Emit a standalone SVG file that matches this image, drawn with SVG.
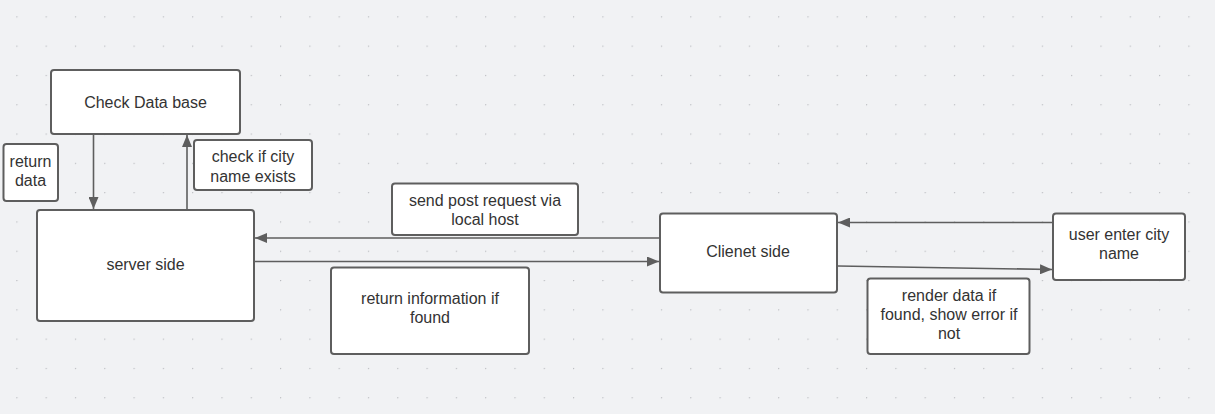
<svg xmlns="http://www.w3.org/2000/svg" width="1215" height="414" viewBox="0 0 1215 414">
<style>
.box{fill:#ffffff;stroke:#5e5e5e;stroke-width:2}
.lbl{font-family:"Liberation Sans",Arial,sans-serif;font-size:16px;fill:#333333;text-anchor:middle}
.conn{stroke:#5e5e5e;stroke-width:1.6;fill:none;marker-end:url(#arr)}
</style>
<defs>
<pattern id="dots" x="16.3" y="16.3" width="29.3" height="29.3" patternUnits="userSpaceOnUse">
<circle cx="0.6" cy="0.6" r="0.7" fill="#b8babe"/>
</pattern>
<marker id="arr" viewBox="0 0 12 10" refX="12" refY="5" markerWidth="12" markerHeight="10" markerUnits="userSpaceOnUse" orient="auto">
<path d="M0,0 L12,5 L0,10 Z" fill="#5e5e5e"/>
</marker>
</defs>
<rect width="1215" height="414" fill="#f1f2f4"/>
<rect width="1215" height="414" fill="url(#dots)"/>
<g id="connectors">
<line class="conn" x1="93.5" y1="135" x2="93.5" y2="209"/>
<line class="conn" x1="187" y1="209" x2="187" y2="135"/>
<line class="conn" x1="659" y1="238" x2="255" y2="238"/>
<line class="conn" x1="255" y1="261.5" x2="659" y2="261.5"/>
<line class="conn" x1="1052" y1="222.5" x2="838" y2="222.5"/>
<line class="conn" x1="838" y1="266" x2="1052" y2="269.5"/>
</g>
<g id="check-db">
<rect class="box" x="51" y="70" width="189" height="64" rx="3"/>
<text class="lbl" x="145.5" y="107.5">Check Data base</text>
</g>
<g id="return-data">
<rect class="box" x="3.5" y="144" width="54.5" height="57" rx="3"/>
<text class="lbl" x="30.5" y="167">return</text>
<text class="lbl" x="30.5" y="186">data</text>
</g>
<g id="check-city">
<rect class="box" x="194" y="140" width="118" height="50" rx="3"/>
<text class="lbl" x="253" y="162">check if city</text>
<text class="lbl" x="253" y="181.5">name exists</text>
</g>
<g id="server-side">
<rect class="box" x="37" y="210" width="217" height="111" rx="3"/>
<text class="lbl" x="145.5" y="269.5">server side</text>
</g>
<g id="send-post">
<rect class="box" x="392" y="183.5" width="186" height="51.5" rx="3"/>
<text class="lbl" x="485" y="206">send post request via</text>
<text class="lbl" x="485" y="225">local host</text>
</g>
<g id="return-info">
<rect class="box" x="331" y="267.5" width="198" height="86.5" rx="3"/>
<text class="lbl" x="430" y="304">return information if</text>
<text class="lbl" x="430" y="323">found</text>
</g>
<g id="client-side">
<rect class="box" x="660" y="213.5" width="177" height="79" rx="3"/>
<text class="lbl" x="748" y="257">Clienet side</text>
</g>
<g id="user-enter">
<rect class="box" x="1053" y="213.5" width="132" height="66.5" rx="3"/>
<text class="lbl" x="1119" y="240">user enter city</text>
<text class="lbl" x="1119" y="259">name</text>
</g>
<g id="render-data">
<rect class="box" x="867.5" y="278.5" width="162" height="75.5" rx="3"/>
<text class="lbl" x="949" y="300.5">render data if</text>
<text class="lbl" x="949" y="320">found, show error if</text>
<text class="lbl" x="949" y="339">not</text>
</g>
</svg>
